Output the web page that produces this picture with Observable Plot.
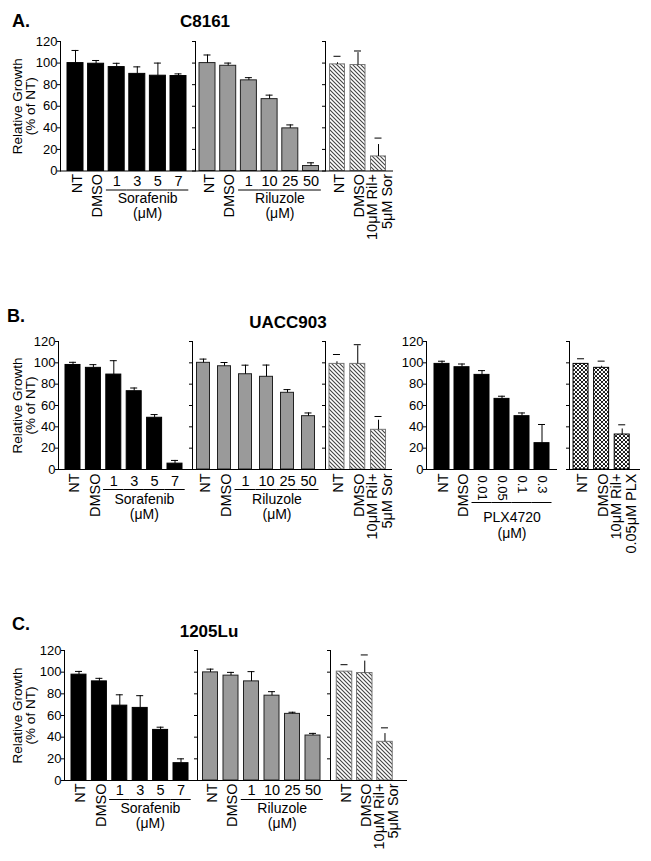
<!DOCTYPE html>
<html><head><meta charset="utf-8">
<script src="https://cdn.jsdelivr.net/npm/d3@7"></script>
<script src="https://cdn.jsdelivr.net/npm/@observablehq/plot@0.6"></script>
<style>
body{margin:0;background:#fff;font-family:"Liberation Sans",Arial,sans-serif;}
#fig{position:relative;width:651px;height:861px;overflow:hidden;background:#fff;}
.sec{position:absolute;}
.lbl{position:absolute;font-weight:bold;white-space:nowrap;line-height:1;color:#000;}
</style></head><body>
<svg width="0" height="0" style="position:absolute">
<defs>
<pattern id="hatch" patternUnits="userSpaceOnUse" width="4" height="4">
<rect width="4" height="4" fill="#fff"/>
<path d="M-1,-1L5,5M3,-1L5,1M-1,3L1,5" stroke="#444" stroke-width="1.1"/>
</pattern>
<pattern id="dots" patternUnits="userSpaceOnUse" width="4" height="4">
<rect width="4" height="4" fill="#fff"/>
<circle cx="1" cy="1" r="1.05" fill="#000"/>
<circle cx="3" cy="3" r="1.05" fill="#000"/>
</pattern>
</defs>
</svg>
<div id="fig"></div>
<script>
// ---------- data ----------
const yTicks = [0, 20, 40, 60, 80, 100, 120];
const sorCats = ["NT", "DMSO", "1", "3", "5", "7"];
const sorDoses = ["1", "3", "5", "7"];
const rilCats = ["NT", "DMSO", "1", "10", "25", "50"];
const rilDoses = ["1", "10", "25", "50"];
const comboCats = ["NT", "DMSO", "10μM Ril+\n5μM Sor"];
const plxCats = ["NT", "DMSO", "0.01", "0.05", "0.1", "0.3"];
const plxDoses = ["0.01", "0.05", "0.1", "0.3"];
const comboPlxCats = ["NT", "DMSO", "10μM Ril+\n0.05μM PLX"];
const yTitle = "Relative Growth\n(% of NT)";
const unitLabel = "(μM)";

// Panel A: C8161
const A_sor = [100, 99.4, 96.3, 90, 88.3, 88];
const A_sorErr = [11.7, 3, 3.5, 6.5, 11.7, 2];
const A_ril = [100, 97.5, 84, 66.6, 39.5, 4.6];
const A_rilErr = [7.5, 2.5, 2.5, 3.7, 3.2, 3];
const A_combo = [98.8, 98.2, 13.5];
const A_comboErr = [7.5, 13, 17];
const A_comboStem = [1.5, 11.5, 11];

// Panel B: UACC903
const B_sor = [98, 95.3, 89, 73.4, 48.5, 5.5];
const B_sorErr = [2.5, 3, 13, 3, 3, 3];
const B_ril = [100, 96.8, 89.3, 86.9, 71.9, 50];
const B_rilErr = [3.5, 3.5, 8.5, 11, 3, 3];
const B_combo = [99, 99, 37.2];
const B_comboErr = [8.8, 18, 12.5];
const B_comboStem = [2, 17, 9];
const B_plx = [99, 95.9, 88.7, 66.2, 50, 24.7];
const B_plxErr = [2.5, 3, 4, 2.5, 3, 17.5];
const B_comboPlx = [99, 95.3, 32.8];
const B_comboPlxErr = [4.8, 6.3, 9.1];
const B_comboPlxStem = [0, 1.5, 5.2];

// Panel C: 1205Lu
const C_sor = [97.7, 91.5, 69.1, 67, 46.7, 16];
const C_sorErr = [3, 2.8, 10, 11.3, 2.5, 4];
const C_ril = [99.8, 96.8, 91.5, 78.3, 61.5, 41.5];
const C_rilErr = [3, 3, 9, 3.7, 1.5, 2];
const C_combo = [100.5, 99.2, 35.7];
const C_comboErr = [6.4, 16.7, 12.9];
const C_comboStem = [0, 11, 7.6];

// ---------- drawing ----------
const fig = document.getElementById("fig");
const PAD = {mL: 44, mR: 26, mT: 12, mB: 120};
const FONT = "'Liberation Sans', Arial, sans-serif";
const CAT_FS = 14.5, GROUP_FS = 14;

function section(o) {
  const {mL, mR, mT, mB} = PAD;
  const n = o.cats.length;
  const step = (o.bandEnd - o.bandStart) / n;
  const data = o.cats.map((cat, i) => ({cat, v: o.vals[i], e: o.errs[i], s: o.stems ? o.stems[i] : o.errs[i]}));
  const doses = o.doses || [];
  const rotCats = o.cats.filter(c => !doses.includes(c));
  const L = o.lab;
  const bi = (step - o.barW) / 2;
  const ci = (step - 7) / 2;
  const marks = [
    Plot.barY(data, {x: "cat", y: "v", fill: o.fill, stroke: o.stroke, strokeWidth: 1, insetLeft: bi, insetRight: bi}),
    Plot.ruleX(data, {x: "cat", y1: "v", y2: d => d.v + d.s, stroke: "#000", strokeWidth: 1}),
    Plot.tickY(data, {x: "cat", y: d => d.v + d.e, stroke: "#000", strokeWidth: 1, insetLeft: ci, insetRight: ci}),
    Plot.ruleY([0], {stroke: "#000", strokeWidth: 1}),
    Plot.text(rotCats, {x: d => d, frameAnchor: "bottom", rotate: -90, textAnchor: "end", lineAnchor: "middle", dy: L.rot, dx: 1.5, fontSize: CAT_FS, lineHeight: 1.0, fill: "#000"})
  ];
  if (doses.length) {
    if (o.doseRotate) {
      marks.push(Plot.text(doses, {x: d => d, frameAnchor: "bottom", rotate: 90, textAnchor: "start", lineAnchor: "middle", dy: L.num, fontSize: 13, fill: "#000"}));
    } else {
      marks.push(Plot.text(doses, {x: d => d, frameAnchor: "bottom", lineAnchor: "middle", dy: L.num, fontSize: CAT_FS, fill: "#000"}));
    }
    marks.push(Plot.tickY(doses, {x: d => d, y: () => 0, dy: L.line, stroke: "#000", strokeWidth: 1}));
    const dxc = step * (doses.length - 1) / 2;
    marks.push(Plot.text([o.group], {x: () => doses[0], frameAnchor: "bottom", dx: dxc, dy: L.name, lineAnchor: "middle", fontSize: GROUP_FS, fill: "#000"}));
    marks.push(Plot.text([unitLabel], {x: () => doses[0], frameAnchor: "bottom", dx: dxc, dy: L.unit, lineAnchor: "middle", fontSize: GROUP_FS, fill: "#000"}));
  }
  if (o.yTitle) {
    marks.push(Plot.text([o.yTitle], {frameAnchor: "left", rotate: -90, textAnchor: "middle", lineAnchor: "middle", dx: 23.5 - o.axisX, fontSize: 13.5, lineHeight: 0.98, fill: "#000"}));
  }
  const W = o.endX - o.axisX + mL + mR;
  const H = (o.y0 - o.y120) + mT + mB;
  const chart = Plot.plot({
    width: W, height: H,
    marginLeft: mL, marginRight: mR, marginTop: mT, marginBottom: mB,
    style: {background: "transparent", overflow: "visible", fontFamily: FONT, fontSize: "13px", color: "#000"},
    x: {type: "band", domain: o.cats, padding: 0, round: false, insetLeft: o.bandStart - o.axisX, insetRight: o.endX - o.bandEnd, axis: null},
    y: {domain: [0, 120], ticks: yTicks, tickSize: 3, tickPadding: 0, tickFormat: o.tickLabels ? (d => String(d)) : (() => ""), line: true, label: null},
    marks
  });
  chart.classList.add("sec");
  chart.style.left = (o.axisX - mL) + "px";
  chart.style.top = (o.y120 - mT) + "px";
  fig.appendChild(chart);
}

function label(text, x, baseline, size, center) {
  const d = document.createElement("div");
  d.className = "lbl";
  d.textContent = text;
  d.style.fontSize = size + "px";
  d.style.left = x + "px";
  d.style.top = (baseline - 0.846 * size) + "px";
  if (center) d.style.transform = "translateX(-50%)";
  fig.appendChild(d);
}

const labStd = {rot: 3, num: 10, line: 19, name: 28, unit: 43};
const labB = {rot: 4, num: 12, line: 20, name: 30, unit: 45};
const labPlx = {rot: 4, num: 6, line: 33, name: 48, unit: 64};
const BLACK = "#000", GRAY = "#9a9a9a";

// Panel A
section({cats: sorCats, vals: A_sor, errs: A_sorErr, doses: sorDoses, group: "Sorafenib", fill: BLACK, stroke: BLACK,
  axisX: 60, endX: 195, bandStart: 64.7, bandEnd: 188.3, barW: 16, y0: 170.5, y120: 41, tickLabels: true, yTitle, lab: labStd});
section({cats: rilCats, vals: A_ril, errs: A_rilErr, doses: rilDoses, group: "Riluzole", fill: GRAY, stroke: "#222",
  axisX: 195, endX: 325, bandStart: 196.65, bandEnd: 320.85, barW: 16, y0: 170.5, y120: 41, lab: labStd});
section({cats: comboCats, vals: A_combo, errs: A_comboErr, stems: A_comboStem, fill: "url(#hatch)", stroke: "#777",
  axisX: 325, endX: 393, bandStart: 326.75, bandEnd: 388.25, barW: 15, y0: 170.5, y120: 41, lab: labStd});

// Panel B
section({cats: sorCats, vals: B_sor, errs: B_sorErr, doses: sorDoses, group: "Sorafenib", fill: BLACK, stroke: BLACK,
  axisX: 58, endX: 192, bandStart: 62.3, bandEnd: 184.7, barW: 15, y0: 469, y120: 341, tickLabels: true, yTitle, lab: labB});
section({cats: rilCats, vals: B_ril, errs: B_rilErr, doses: rilDoses, group: "Riluzole", fill: GRAY, stroke: "#222",
  axisX: 192, endX: 325, bandStart: 192.5, bandEnd: 318.5, barW: 13, y0: 469, y120: 341, lab: labB});
section({cats: comboCats, vals: B_combo, errs: B_comboErr, stems: B_comboStem, fill: "url(#hatch)", stroke: "#777",
  axisX: 325, endX: 392, bandStart: 326.1, bandEnd: 388.4, barW: 15, y0: 469, y120: 341, lab: labB});
section({cats: plxCats, vals: B_plx, errs: B_plxErr, doses: plxDoses, doseRotate: true, group: "PLX4720", fill: BLACK, stroke: BLACK,
  axisX: 426, endX: 557, bandStart: 431.5, bandEnd: 551.5, barW: 15, y0: 469, y120: 341, tickLabels: true, lab: labPlx});
section({cats: comboPlxCats, vals: B_comboPlx, errs: B_comboPlxErr, stems: B_comboPlxStem, fill: "url(#dots)", stroke: "#000",
  axisX: 569, endX: 640, bandStart: 570.25, bandEnd: 632, barW: 15, y0: 469, y120: 341, lab: labB});

// Panel C
section({cats: sorCats, vals: C_sor, errs: C_sorErr, doses: sorDoses, group: "Sorafenib", fill: BLACK, stroke: BLACK,
  axisX: 64, endX: 197, bandStart: 68.3, bandEnd: 190.7, barW: 15, y0: 780, y120: 650, tickLabels: true, yTitle, lab: labStd});
section({cats: rilCats, vals: C_ril, errs: C_rilErr, doses: rilDoses, group: "Riluzole", fill: GRAY, stroke: "#222",
  axisX: 197, endX: 330, bandStart: 199.75, bandEnd: 322.75, barW: 15, y0: 780, y120: 650, lab: labStd});
section({cats: comboCats, vals: C_combo, errs: C_comboErr, stems: C_comboStem, fill: "url(#hatch)", stroke: "#777",
  axisX: 330, endX: 407, bandStart: 333.9, bandEnd: 394.6, barW: 15.5, y0: 780, y120: 650, lab: labStd});

// Titles
label("A.", 12, 27, 18, false);
label("C8161", 205, 27, 17, true);
label("B.", 7, 322, 18, false);
label("UACC903", 288, 328, 17, true);
label("C.", 12, 630, 18, false);
label("1205Lu", 209, 637, 17, true);
</script>
</body></html>
